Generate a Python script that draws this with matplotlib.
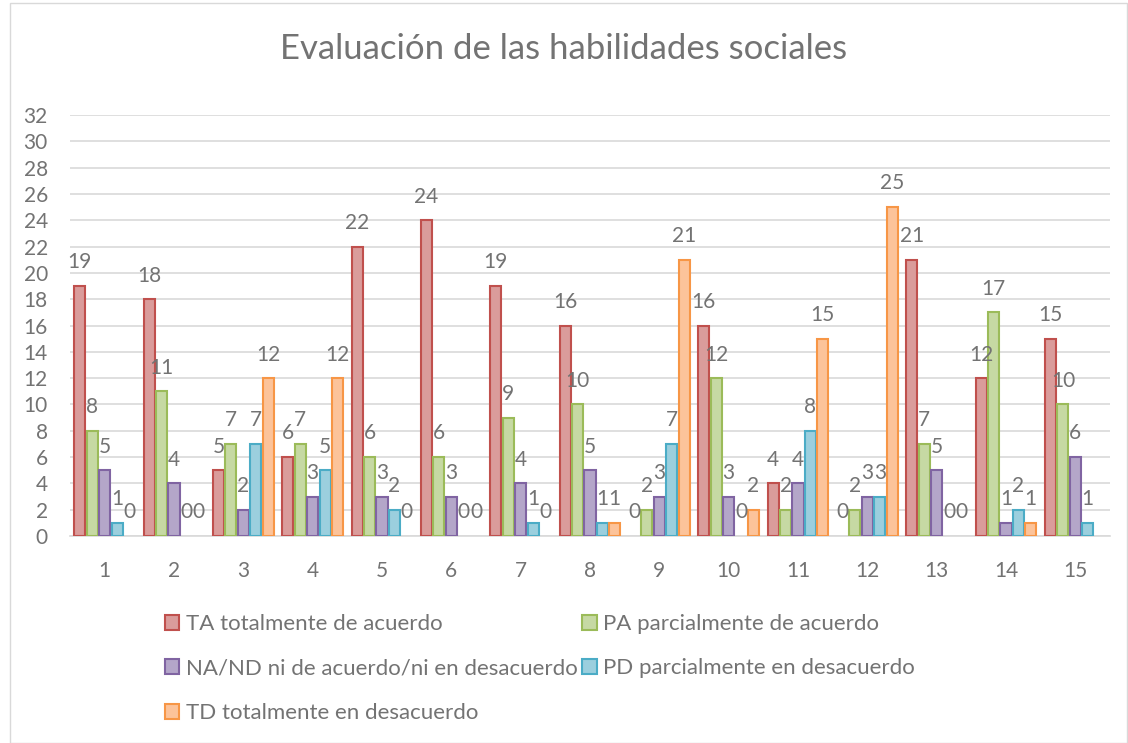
import numpy as np
import matplotlib
matplotlib.use("Agg")
import matplotlib.pyplot as plt
from matplotlib.patches import Rectangle

categories = [str(i) for i in range(1, 16)]
series_names = [
    "TA totalmente de acuerdo",
    "PA parcialmente de acuerdo",
    "NA/ND ni de acuerdo/ni en desacuerdo",
    "PD parcialmente en desacuerdo",
    "TD totalmente en desacuerdo",
]
ta = [19, 18, 5, 6, 22, 24, 19, 16, 0, 16, 4, 0, 21, 12, 15]
pa = [8, 11, 7, 7, 6, 6, 9, 10, 2, 12, 2, 2, 7, 17, 10]
na = [5, 4, 2, 3, 3, 3, 4, 5, 3, 3, 4, 3, 5, 1, 6]
pd_ = [1, 0, 7, 5, 2, 0, 1, 1, 7, 0, 8, 3, 0, 2, 1]
td = [0, 0, 12, 12, 0, 0, 0, 1, 21, 2, 15, 25, 0, 1, np.nan]
series = [ta, pa, na, pd_, td]

fills = ["#DA9C9B", "#C6D9A3", "#B4A6C9", "#9BCFDE", "#FCC39A"]
edges = ["#C0504D", "#9BBB59", "#8064A2", "#4BACC6", "#F79646"]

plt.rcParams['font.family'] = ['Lato', 'DejaVu Sans']
text_color = "#737373"

fig = plt.figure(figsize=(11.28, 7.43), dpi=100)
fig.patches.append(Rectangle((10/1128, 0.0), 1 - 10/1128 - 0.001, 1 - 3/743,
                             transform=fig.transFigure, fill=False,
                             edgecolor="#D9D9D9", linewidth=1))
ax = fig.add_axes([70/1128, 1 - 536/743, (1110 - 70)/1128, (536 - 115)/743])

x = np.arange(len(categories))
n = len(series)
bw = 0.16
step = 0.179
handles = []
for i, (vals, fc, ec, name) in enumerate(zip(series, fills, edges, series_names)):
    pos = x + (i - (n - 1) / 2) * step
    v = np.array(vals, dtype=float)
    mask = ~np.isnan(v)
    h = np.where(v[mask] > 0, v[mask], np.nan)
    b = ax.bar(pos[mask], h, width=bw, color=fc, edgecolor=ec,
               linewidth=1.5, label=name, zorder=3)
    handles.append(b)
    for px, val in zip(pos[mask], v[mask]):
        ax.annotate(f"{int(val)}", (px, val), xytext=(0, 17), textcoords="offset points",
                    ha="center", va="center", fontsize=15, color=text_color, zorder=4)

ax.set_xlim(-0.5, len(categories) - 0.5)
ax.set_ylim(0, 32)
ax.set_yticks(range(0, 33, 2))
ax.set_xticks(x)
ax.set_xticklabels(categories)
ax.yaxis.grid(True, color="#D9D9D9", linewidth=1.2, zorder=0)
ax.set_axisbelow(True)
for s in ["top", "right", "left"]:
    ax.spines[s].set_visible(False)
ax.spines["bottom"].set_color("#D9D9D9")
ax.spines["bottom"].set_linewidth(1.2)
ax.tick_params(axis="both", length=0, colors=text_color, labelsize=15)
ax.tick_params(axis="x", pad=18)
ax.tick_params(axis="y", pad=16)

fig.text(0.5, 1 - 49/743, "Evaluación de las habilidades sociales", ha="center",
         va="center", fontsize=25, color=text_color)

order = [0, 2, 4, 1, 3]
leg = fig.legend([handles[k] for k in order], [series_names[k] for k in order],
                 ncol=2, loc="upper left", bbox_to_anchor=(145/1128, 1 - 594/743),
                 frameon=False, fontsize=16, labelcolor=text_color,
                 handlelength=0.65, handleheight=0.65, handletextpad=0.3,
                 columnspacing=0.2, labelspacing=1.1)

fig.savefig("out.png", dpi=100)
